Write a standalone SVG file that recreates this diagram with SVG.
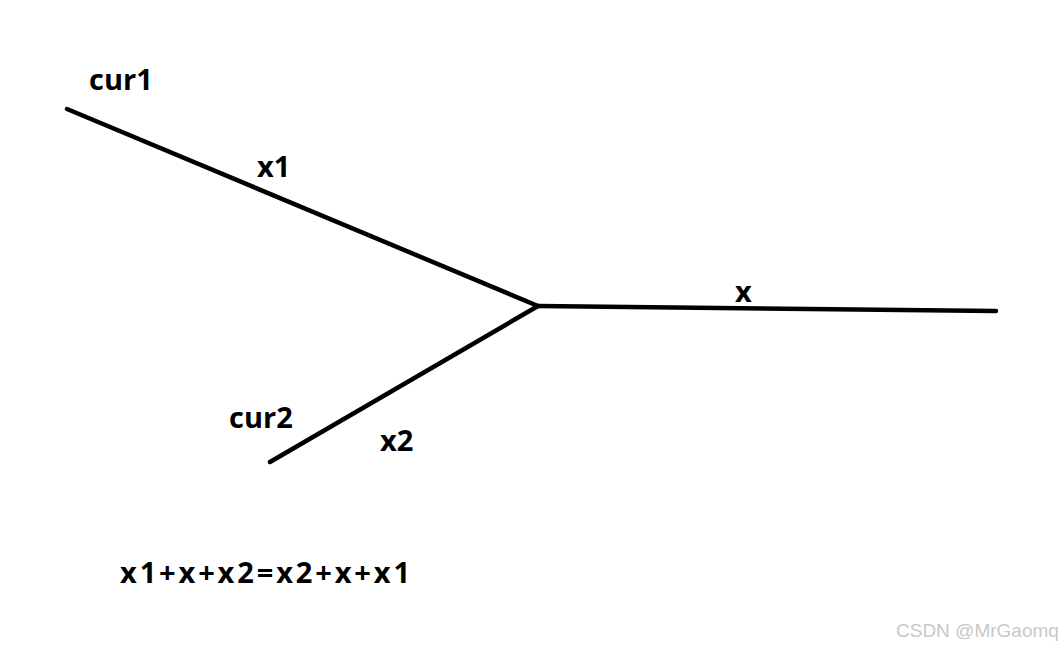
<svg xmlns="http://www.w3.org/2000/svg" width="1063" height="646" viewBox="0 0 1063 646">
<style>
.l{stroke:#000;stroke-width:4.5;stroke-linecap:round;fill:none}
.t{font-family:"Open Sans","Liberation Sans",sans-serif;font-weight:bold;font-size:29px;fill:#000}
.w{font-family:"Liberation Sans",Arial,sans-serif;font-size:19px;fill:#c8c8c8}
</style>
<rect width="1063" height="646" fill="#fff"/>
<g id="connectors">
<line class="l" x1="67" y1="109" x2="538" y2="306"/>
<line class="l" x1="270" y1="462" x2="538" y2="306"/>
<line class="l" x1="538" y1="306" x2="996" y2="311"/>
</g>
<g id="labels">
<text class="t" x="89" y="90">cur1</text>
<text class="t" x="257" y="177">x1</text>
<text class="t" x="735" y="302">x</text>
<text class="t" x="229" y="428">cur2</text>
<text class="t" x="380" y="451">x2</text>
<text class="t" x="120" y="583" textLength="290" lengthAdjust="spacing">x1+x+x2=x2+x+x1</text>
<text class="w" x="896" y="637">CSDN @MrGaomq</text>
</g>
</svg>
